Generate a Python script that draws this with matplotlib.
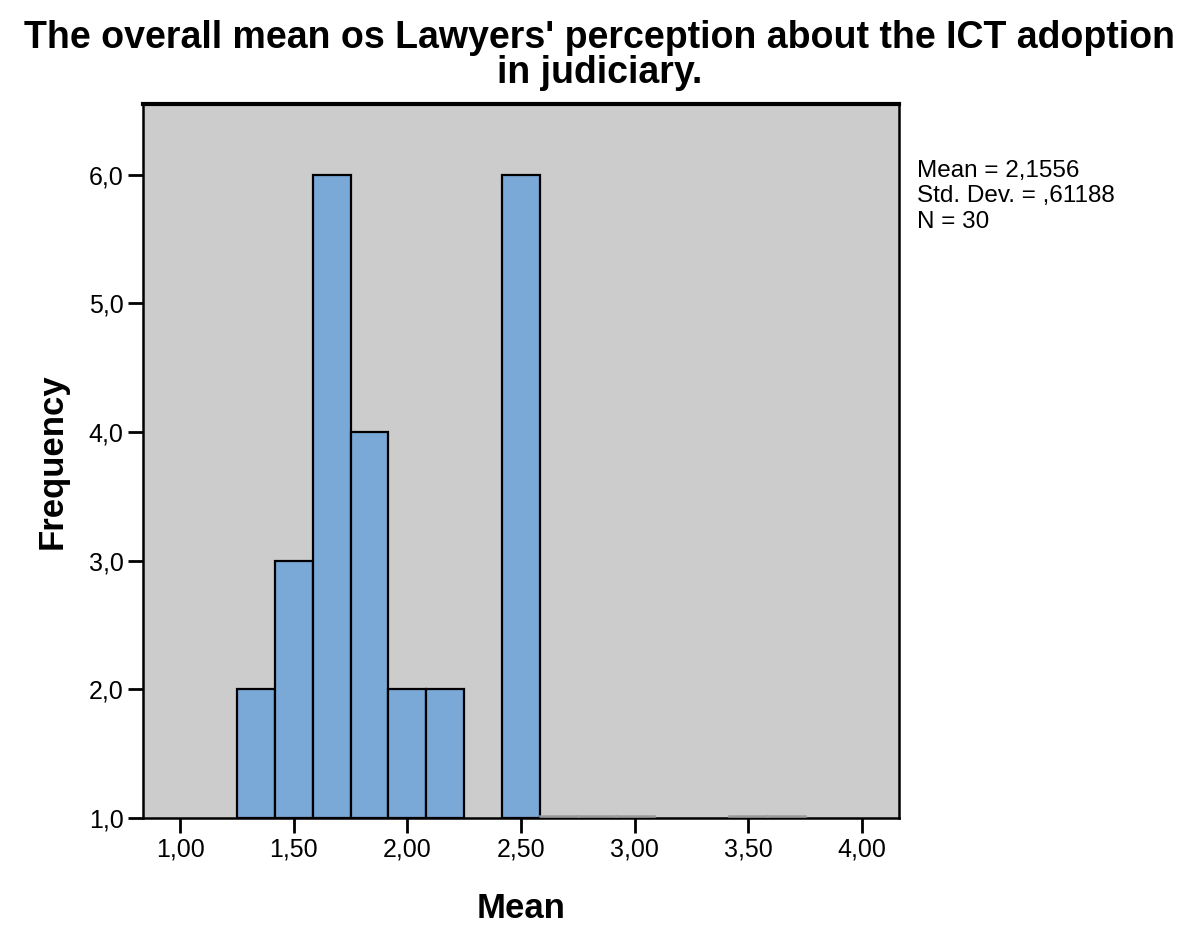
import matplotlib
matplotlib.use("Agg")
import matplotlib.pyplot as plt
import numpy as np

plt.rcParams['font.family'] = ['Liberation Sans', 'DejaVu Sans']

bin_width = 1/6
bin_starts = [1.25 + i*bin_width for i in range(15)]
counts = [2, 3, 6, 4, 2, 2, 0, 6, 1, 1, 1, 0, 0, 1, 1]
xticks = [1.0, 1.5, 2.0, 2.5, 3.0, 3.5, 4.0]
xticklabels = ["1,00", "1,50", "2,00", "2,50", "3,00", "3,50", "4,00"]
yticks = [1, 2, 3, 4, 5, 6]
yticklabels = ["1,0", "2,0", "3,0", "4,0", "5,0", "6,0"]

W, H = 1200, 943
fig = plt.figure(figsize=(12, 9.43), dpi=100)
ax = fig.add_axes([143/W, 1-818/H, (899-143)/W, (818-104)/H])
ax.set_facecolor('#cccccc')

for x0, c in zip(bin_starts, counts):
    if c >= 2:
        ax.bar(x0, c-1, width=bin_width, bottom=1, align='edge',
               color='#7aa9d8', edgecolor='black', linewidth=1.6, zorder=3)
    elif c == 1:
        ax.plot([x0, x0+bin_width], [1.012, 1.012], color='#9a9a9a', lw=1.8, zorder=3)

ax.set_xlim(0.837, 4.163)
ax.set_ylim(1.0, 6.55)
ax.set_xticks(xticks)
ax.set_xticklabels(xticklabels, fontsize=18)
ax.set_yticks(yticks)
ax.set_yticklabels(yticklabels, fontsize=18)
ax.tick_params(direction='out', length=11, width=2, pad=3)
for s in ax.spines.values():
    s.set_linewidth(1.8)
ax.spines['top'].set_linewidth(3)

fig.text(521/W, 1-908/H, 'Mean', ha='center', va='center', fontsize=25, fontweight='bold')
fig.text(52/W, 1-461/H, 'Frequency', ha='center', va='center', rotation=90,
         fontsize=25, fontweight='bold')

fig.text(0.5, 1-48/H, "The overall mean os Lawyers' perception about the ICT adoption",
         ha='center', va='baseline', fontsize=27, fontweight='bold')
fig.text(0.5, 1-83/H, "in judiciary.",
         ha='center', va='baseline', fontsize=27, fontweight='bold')

fig.text(917/W, 1-160/H, "Mean = 2,1556\nStd. Dev. = ,61188\nN = 30",
         ha='left', va='top', fontsize=17.5, linespacing=1.2)

fig.savefig('out.png', dpi=100)
